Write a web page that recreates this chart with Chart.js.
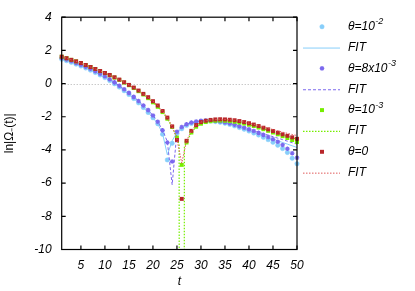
<!DOCTYPE html>
<html>
<head>
<meta charset="utf-8">
<script src="https://cdn.jsdelivr.net/npm/chart.js@4"></script>
<style>
  html, body { margin: 0; padding: 0; background: #fff; }
  #chart { display: block; }
</style>
</head>
<body>
<canvas id="chart" width="415" height="291"></canvas>
<script>
// time axis, one sample per unit
var tVals = [1,2,3,4,5,6,7,8,9,10,11,12,13,14,15,16,17,18,19,20,
  21,22,23,24,25,26,27,28,29,30,31,32,33,34,35,36,37,38,39,40,
  41,42,43,44,45,46,47,48,49,50];

// measured ln|Omega(t)|
var theta1e2 = [1.47,1.38,1.28,1.17,1.06,0.94,0.81,0.67,0.52,0.36,
  0.18,-0.01,-0.21,-0.43,-0.66,-0.90,-1.16,-1.44,-1.74,-2.06,
  -2.42,-3.05,-4.60,-3.60,-3.00,-2.72,-2.52,-2.40,-2.33,-2.28,
  -2.26,-2.26,-2.29,-2.33,-2.39,-2.46,-2.55,-2.65,-2.75,-2.86,
  -2.98,-3.10,-3.24,-3.38,-3.54,-3.72,-3.92,-4.15,-4.50,-4.83];
var theta8e3 = [1.55,1.46,1.36,1.25,1.14,1.02,0.89,0.75,0.60,0.44,
  0.26,0.07,-0.13,-0.34,-0.56,-0.80,-1.05,-1.32,-1.60,-1.92,
  -2.30,-2.82,-3.55,-4.70,-2.90,-2.62,-2.45,-2.35,-2.29,-2.25,
  -2.23,-2.23,-2.25,-2.29,-2.34,-2.40,-2.48,-2.57,-2.66,-2.76,
  -2.86,-2.97,-3.09,-3.22,-3.36,-3.51,-3.70,-3.93,-4.20,-4.47];
var theta1e3 = [1.62,1.53,1.43,1.34,1.24,1.12,1.00,0.88,0.75,0.63,
  0.50,0.36,0.22,0.06,-0.10,-0.27,-0.46,-0.66,-0.88,-1.13,
  -1.40,-1.72,-2.12,-2.62,-3.25,-4.90,-3.55,-2.95,-2.60,-2.42,
  -2.32,-2.27,-2.24,-2.23,-2.24,-2.26,-2.30,-2.35,-2.41,-2.48,
  -2.56,-2.65,-2.75,-2.85,-2.95,-3.06,-3.17,-3.28,-3.40,-3.52];
var theta0 = [1.62,1.53,1.43,1.34,1.24,1.12,1.00,0.88,0.76,0.64,
  0.52,0.38,0.24,0.08,-0.08,-0.24,-0.42,-0.62,-0.82,-1.06,
  -1.32,-1.65,-2.05,-2.58,-3.40,-6.95,-3.45,-2.85,-2.50,-2.32,
  -2.24,-2.19,-2.16,-2.15,-2.16,-2.18,-2.21,-2.26,-2.32,-2.39,
  -2.47,-2.56,-2.66,-2.76,-2.86,-2.96,-3.06,-3.15,-3.24,-3.33];

// fitted curves
var fit1e2 = [1.47,1.38,1.28,1.17,1.06,0.94,0.81,0.67,0.52,0.36,
  0.18,-0.01,-0.21,-0.43,-0.66,-0.90,-1.16,-1.44,-1.74,-2.06,
  -2.42,-3.00,-4.30,-3.45,-2.95,-2.70,-2.52,-2.40,-2.33,-2.28,
  -2.26,-2.26,-2.29,-2.33,-2.39,-2.46,-2.55,-2.65,-2.75,-2.86,
  -2.95,-3.05,-3.15,-3.25,-3.35,-3.45,-3.55,-3.65,-3.75,-3.85];
var fit8e3 = [1.55,1.46,1.36,1.25,1.14,1.02,0.89,0.75,0.60,0.44,
  0.26,0.07,-0.13,-0.34,-0.56,-0.80,-1.05,-1.32,-1.60,-1.92,
  -2.30,-2.80,-3.50,-6.10,-2.90,-2.62,-2.45,-2.35,-2.29,-2.25,
  -2.23,-2.23,-2.25,-2.29,-2.34,-2.40,-2.48,-2.57,-2.66,-2.76,
  -2.84,-2.93,-3.02,-3.11,-3.20,-3.29,-3.38,-3.47,-3.56,-3.65];
var tFit1e3 = [1,2,3,4,5,6,7,8,9,10,11,12,13,14,15,16,17,18,19,20,
  21,22,23,24,25,25.45,25.5,26.5,26.55,27,28,29,30,31,32,33,34,35,36,37,38,39,40,
  41,42,43,44,45,46,47,48,49,50];
var fit1e3 = [1.62,1.53,1.43,1.34,1.24,1.12,1.00,0.88,0.75,0.63,
  0.50,0.36,0.22,0.06,-0.10,-0.27,-0.46,-0.66,-0.88,-1.13,
  -1.40,-1.72,-2.12,-2.62,-3.25,-3.70,-20,-20,-3.80,-3.55,-2.95,-2.60,-2.42,
  -2.32,-2.27,-2.24,-2.23,-2.24,-2.26,-2.30,-2.35,-2.41,-2.48,
  -2.55,-2.63,-2.72,-2.81,-2.90,-2.99,-3.08,-3.17,-3.26,-3.35];
var fit0 = [1.62,1.53,1.43,1.34,1.24,1.12,1.00,0.88,0.76,0.64,
  0.52,0.38,0.24,0.08,-0.08,-0.24,-0.42,-0.62,-0.82,-1.06,
  -1.32,-1.65,-2.05,-2.58,-3.35,-4.80,-3.45,-2.85,-2.50,-2.32,
  -2.24,-2.19,-2.16,-2.15,-2.16,-2.18,-2.21,-2.26,-2.32,-2.39,
  -2.45,-2.53,-2.61,-2.69,-2.77,-2.85,-2.93,-3.00,-3.07,-3.13];

var xTicks = [5,10,15,20,25,30,35,40,45,50];
var legendText = [['θ=10','-2'],['FIT',''],['θ=8x10','-3'],['FIT',''],
  ['θ=10','-3'],['FIT',''],['θ=0',''],['FIT','']];

var FONT = '"Liberation Sans", Arial, sans-serif';

function pts(ts, vs) {
  return ts.map(function (t, i) { return { x: t, y: vs[i] }; });
}

function markers(vals, color, style, r, bw) {
  return {
    data: pts(tVals, vals), showLine: false, clip: false,
    pointStyle: style, pointRadius: r, pointBorderWidth: bw,
    backgroundColor: color, borderColor: color, pointHoverRadius: r
  };
}
function fitLine(ts, vals, color, dash, w) {
  return {
    data: pts(ts, vals), showLine: true, pointRadius: 0, tension: 0,
    borderColor: color, backgroundColor: color, borderWidth: w, borderDash: dash
  };
}

var datasets = [
  markers(theta1e2, '#87cefa', 'circle', 2.2, 0.5),
  fitLine(tVals, fit1e2, '#87cefa', [], 1),
  markers(theta8e3, '#7b68ee', 'star', 2.3, 1.2),
  fitLine(tVals, fit8e3, '#7b68ee', [3, 2], 1),
  markers(theta1e3, '#76ee00', 'rect', 2.8, 0),
  fitLine(tFit1e3, fit1e3, '#76ee00', [1.5, 1.5], 1.2),
  markers(theta0, '#b8262a', 'rect', 2.8, 0),
  fitLine(tVals, fit0, '#e05a5a', [1.5, 1.5], 1)
];
// later datasets drawn on top, like the plot order
datasets.forEach(function (d, i) { d.order = datasets.length - 1 - i; });

var framePlugin = {
  id: 'frame',
  beforeDatasetsDraw: function (chart) {
    var a = chart.chartArea, ctx = chart.ctx;
    var y0 = Math.round(chart.scales.y.getPixelForValue(0)) + 0.5;
    ctx.save();
    ctx.strokeStyle = '#b0b0b0';
    ctx.lineWidth = 1;
    ctx.setLineDash([1, 2]);
    ctx.beginPath();
    ctx.moveTo(a.left, y0);
    ctx.lineTo(a.right, y0);
    ctx.stroke();
    ctx.restore();
  },
  afterDatasetsDraw: function (chart) {
    var a = chart.chartArea, ctx = chart.ctx;
    ctx.save();
    ctx.strokeStyle = '#000';
    ctx.lineWidth = 1.2;
    ctx.strokeRect(a.left, a.top, a.right - a.left, a.bottom - a.top);
    ctx.beginPath();
    chart.scales.x.ticks.forEach(function (tk) {
      var px = chart.scales.x.getPixelForValue(tk.value);
      ctx.moveTo(px, a.bottom); ctx.lineTo(px, a.bottom - 4);
      ctx.moveTo(px, a.top); ctx.lineTo(px, a.top + 4);
    });
    chart.scales.y.ticks.forEach(function (tk) {
      var py = chart.scales.y.getPixelForValue(tk.value);
      ctx.moveTo(a.left, py); ctx.lineTo(a.left + 4, py);
      ctx.moveTo(a.right, py); ctx.lineTo(a.right - 4, py);
    });
    ctx.stroke();
    ctx.restore();
  }
};

var legendPlugin = {
  id: 'sideLegend',
  afterDraw: function (chart) {
    var ctx = chart.ctx;
    chart.data.datasets.forEach(function (ds, i) {
      var y = 26.7 + i * 20.85;
      ctx.save();
      if (ds.showLine === false) {
        ctx.fillStyle = ds.backgroundColor;
        ctx.strokeStyle = ds.borderColor;
        ctx.lineWidth = ds.pointBorderWidth;
        Chart.helpers.drawPoint(ctx, {
          pointStyle: ds.pointStyle, radius: ds.pointRadius,
          borderWidth: ds.pointBorderWidth, rotation: 0
        }, 322, y);
      } else {
        ctx.strokeStyle = ds.borderColor;
        ctx.lineWidth = ds.borderWidth;
        ctx.setLineDash(ds.borderDash);
        ctx.beginPath();
        ctx.moveTo(303, y + 0.5);
        ctx.lineTo(340, y + 0.5);
        ctx.stroke();
      }
      ctx.setLineDash([]);
      ctx.fillStyle = '#000';
      ctx.textBaseline = 'middle';
      ctx.textAlign = 'left';
      ctx.font = 'italic 12px ' + FONT;
      var base = legendText[i][0], sup = legendText[i][1];
      ctx.fillText(base, 348, y);
      if (sup) {
        var w = ctx.measureText(base).width;
        ctx.font = 'italic 9px ' + FONT;
        ctx.fillText(sup, 348 + w + 0.5, y - 5);
      }
      ctx.restore();
    });
  }
};

var ctx = document.getElementById('chart').getContext('2d');
var chart = new Chart(ctx, {
  type: 'scatter',
  data: { datasets: datasets },
  plugins: [framePlugin, legendPlugin],
  options: {
    responsive: false,
    animation: false,
    events: [],
    layout: { padding: { top: 16, right: 118, left: 0, bottom: 0 } },
    plugins: { legend: { display: false }, tooltip: { enabled: false } },
    scales: {
      x: {
        type: 'linear', min: 1, max: 50,
        afterFit: function (s) { s.height = 41.5; },
        afterBuildTicks: function (s) {
          s.ticks = xTicks.map(function (v) { return { value: v }; });
        },
        grid: { display: true, drawOnChartArea: false, drawTicks: false, color: 'rgba(0,0,0,0)' },
        border: { display: false },
        ticks: { color: '#000', padding: 9, maxRotation: 0, autoSkip: false,
          font: { family: FONT, size: 12, style: 'italic' } },
        title: { display: true, text: 't', color: '#000',
          padding: { top: 0, bottom: 2 },
          font: { family: FONT, size: 12, style: 'italic' } }
      },
      y: {
        type: 'linear', min: -10, max: 4,
        afterFit: function (s) { s.width = 61.7; },
        grid: { display: true, drawOnChartArea: false, drawTicks: false, color: 'rgba(0,0,0,0)' },
        border: { display: false },
        ticks: { stepSize: 2, color: '#000', padding: 10,
          font: { family: FONT, size: 12, style: 'italic' } },
        title: { display: true, text: 'ln|Ω₋(t)|', color: '#000',
          padding: { top: 2, bottom: 0 },
          font: { family: FONT, size: 12 } }
      }
    }
  }
});
</script>
</body>
</html>
